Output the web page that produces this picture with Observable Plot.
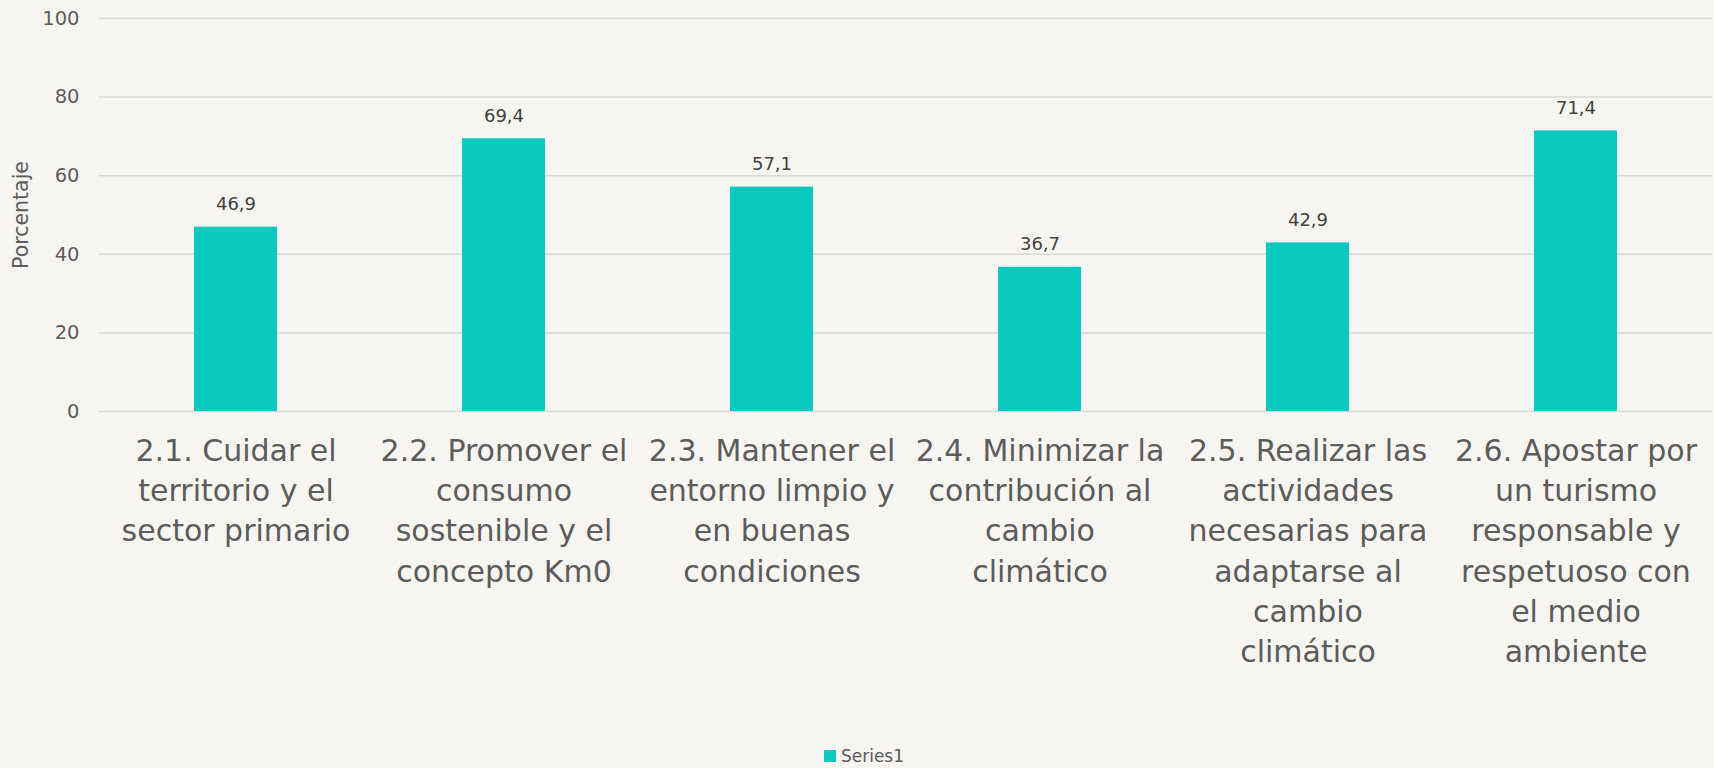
<!DOCTYPE html>
<html>
<head>
<meta charset="utf-8">
<script src="https://cdn.jsdelivr.net/npm/d3@7"></script>
<script src="https://cdn.jsdelivr.net/npm/@observablehq/plot@0.6"></script>
<style>
  html, body { margin: 0; padding: 0; background: #f7f5f1; }
  body { width: 1714px; height: 768px; overflow: hidden; font-family: "DejaVu Sans", sans-serif; }
  #chart svg { display: block; background: transparent; }
  #legend { height: 24px; display: flex; justify-content: center; align-items: center; font-size: 17px; color: #595959; padding-left: 14px; }
  #legend .sw { width: 12px; height: 12px; background: #0acac0; margin-right: 5px; }
</style>
</head>
<body>
<div id="chart"></div>
<div id="legend"><span class="sw"></span><span id="legend-label"></span></div>
<script>
const categories = [
  "2.1. Cuidar el\nterritorio y el\nsector primario",
  "2.2. Promover el\nconsumo\nsostenible y el\nconcepto Km0",
  "2.3. Mantener el\nentorno limpio y\nen buenas\ncondiciones",
  "2.4. Minimizar la\ncontribución al\ncambio\nclimático",
  "2.5. Realizar las\nactividades\nnecesarias para\nadaptarse al\ncambio\nclimático",
  "2.6. Apostar por\nun turismo\nresponsable y\nrespetuoso con\nel medio\nambiente"
];
const values = [46.9, 69.4, 57.1, 36.7, 42.9, 71.4];
const yTicks = [0, 20, 40, 60, 80, 100];
const seriesName = "Series1";
const yLabel = "Porcentaje";

document.getElementById("legend-label").textContent = seriesName;

const data = categories.map((c, i) => ({category: c, value: values[i]}));
const fmt = v => v.toFixed(1).replace(".", ",");

const chart = Plot.plot({
  width: 1714,
  height: 744,
  marginTop: 18,
  marginBottom: 333,
  marginLeft: 99,
  marginRight: 2,
  style: {fontFamily: "'DejaVu Sans', sans-serif", color: "#5c5c5c", background: "transparent"},
  x: {domain: categories, paddingInner: 0.69, paddingOuter: 0.345},
  y: {domain: [0, 100]},
  marks: [
    Plot.ruleY(yTicks, {stroke: "#d9d9d9", strokeWidth: 1.5}),
    Plot.barY(data, {x: "category", y: "value", fill: "#0acac0"}),
    Plot.text(data, {x: "category", y: "value", text: d => fmt(d.value), lineAnchor: "bottom", dy: -17, fontSize: 18, fill: "#404040"}),
    Plot.axisY({ticks: yTicks, tickSize: 0, tickPadding: 20, fontSize: 19.5, label: yLabel, labelAnchor: "center", labelArrow: "none", labelOffset: 86}),
    Plot.axisX({tickSize: 0, tickPadding: 21, fontSize: 30, lineHeight: 1.34, label: null})
  ]
});
chart.querySelectorAll("g[aria-label='y-axis label'] text").forEach(t => t.setAttribute("font-size", 20.5));
document.getElementById("chart").appendChild(chart);
</script>
</body>
</html>
